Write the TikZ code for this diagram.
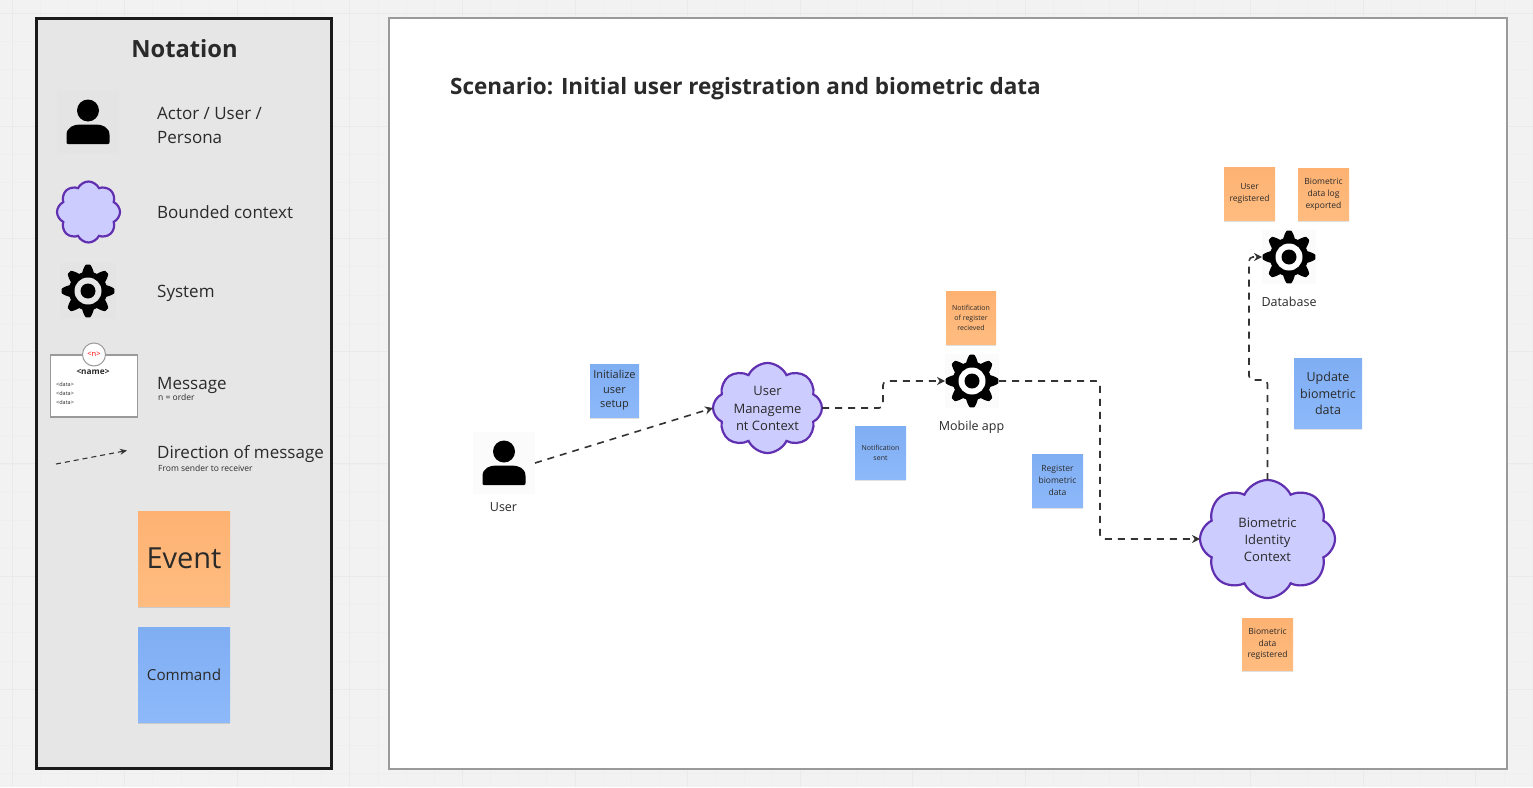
\documentclass[tikz,border=0pt]{standalone}
\usepackage{fontspec}
\setmainfont{Open Sans}
\usetikzlibrary{shapes.symbols,shadows,arrows.meta}
\definecolor{pagebg}{HTML}{F2F2F2}
\definecolor{gridminor}{HTML}{EFEFEF}
\definecolor{gridmajor}{HTML}{EAEAEA}
\definecolor{panelbg}{HTML}{E6E6E6}
\definecolor{panelicon}{HTML}{E4E4E4}
\definecolor{whiteicon}{HTML}{FBFBFB}
\definecolor{panelline}{HTML}{1A1A1A}
\definecolor{frameline}{HTML}{9A9A9A}
\definecolor{inktext}{HTML}{2A2A2A}
\definecolor{evtop}{HTML}{FDB272}
\definecolor{evbot}{HTML}{FFBC80}
\definecolor{cmtop}{HTML}{80AEF3}
\definecolor{cmbot}{HTML}{8DB9FA}
\definecolor{cloudfill}{HTML}{CCCCFF}
\definecolor{cloudline}{HTML}{6030B0}
\definecolor{connline}{HTML}{333333}
\newcommand{\fsz}[2]{\fontsize{#1}{#2}\selectfont}
\newcommand{\gearat}[2]{%
  \begin{scope}[shift={(#1.center)}]
    \fill[black] plot[domain=0:360,samples=289,smooth] ({\x}:{22.8+3.6*max(-1,min(1,1.25*cos(8*\x)))}) -- cycle;
    \fill[#2] (0,0) circle (13.5);
    \fill[black] (0,0) circle (7.5);
  \end{scope}}
\newcommand{\personat}[1]{%
  \begin{scope}[shift={(#1.center)}]
    \fill[black] (0,-11.5) circle (11);
    \fill[black] (-21.5,20) -- (-21.5,13) .. controls (-21.5,5) and (-14,2.5) .. (-8,2.5) -- (8,2.5) .. controls (14,2.5) and (21.5,5) .. (21.5,13) -- (21.5,20) .. controls (21.5,21.5) and (21,22) .. (20,22) -- (-20,22) .. controls (-21,22) and (-21.5,21.5) .. (-21.5,20) -- cycle;
  \end{scope}}
\tikzset{
  x=1pt,y=-1pt,
  sticky/.style={rectangle,inner sep=0pt,align=center,text=inktext,
    drop shadow={shadow xshift=0pt,shadow yshift=-1.5pt,opacity=.12,fill=black}},
  evnote/.style={sticky,top color=evtop,bottom color=evbot},
  cmnote/.style={sticky,top color=cmtop,bottom color=cmbot},
  small note/.style={minimum width=51pt,minimum height=53pt},
  ctx/.style={cloud,cloud puffs=8,cloud puff arc=130,cloud ignores aspect,draw=cloudline,fill=cloudfill,line width=2.2pt,inner sep=0pt,outer sep=0pt},
  ctxlabel/.style={align=center,text=inktext,inner sep=0pt,yshift=-0.7pt},
  iconbox/.style={rectangle,inner sep=0pt,outer sep=0pt,minimum size=#1},
  legend/.style={anchor=west,inner sep=0pt,align=left,text=inktext},
  caption/.style={inner sep=0pt,text=inktext,font=\fsz{12.5}{15}},
  conn/.style={draw=connline,line width=1.6pt,dash pattern=on 7pt off 6pt,rounded corners=4pt,-{Stealth[length=8pt,width=8pt]}},
  msgdata/.style={anchor=west,inner sep=0pt,font=\fsz{5.5}{6},text=inktext},
}
\begin{document}
\begin{tikzpicture}
\useasboundingbox (0,0) rectangle (1533,787);
% canvas
\fill[pagebg] (0,0) rectangle (1533,787);
\foreach \i in {0,...,54} {\draw[gridminor,line width=.8pt] ({12+28.15*\i},0) -- ({12+28.15*\i},787);}
\foreach \i in {0,...,28} {\draw[gridminor,line width=.8pt] (0,{13.5+28.15*\i}) -- (1533,{13.5+28.15*\i});}
\foreach \i in {0,...,13} {\draw[gridmajor,line width=1pt] ({12+112.6*\i},0) -- ({12+112.6*\i},787);}
\foreach \i in {0,...,6} {\draw[gridmajor,line width=1pt] (0,{13.5+112.6*\i}) -- (1533,{13.5+112.6*\i});}
% frames
\draw[panelline,fill=panelbg,line width=2.6pt] (36.5,18.5) rectangle (331.5,768.5);
\draw[frameline,fill=white,line width=1.4pt] (389,18) rectangle (1507,769);
% legend
\node[inner sep=0pt,text=inktext,font=\bfseries\fsz{23.7}{28}] (nottitle) at (184.5,49) {Notation};
\node[iconbox=62pt,fill=panelicon] (lgperson) at (88,122) {};
\personat{lgperson}
\node[legend,font=\fsz{17}{24}] (lgactor) at (157,125) {Actor / User /\\Persona};
\node[ctx,minimum width=63pt,minimum height=61pt] (lgcloud) at (88.5,212) {};
\node[legend,font=\fsz{17}{20}] (lgbounded) at (157,212.5) {Bounded context};
\node[iconbox=56pt,fill=panelicon] (lggear) at (88,291) {};
\gearat{lggear}{panelbg}
\node[legend,font=\fsz{17}{20}] (lgsystem) at (157,293) {System};
\node[rectangle,draw=frameline,fill=white,line width=1.4pt,minimum width=87pt,minimum height=62pt,inner sep=0pt] (lgmsg) at (94,386) {};
\node[circle,draw=frameline,fill=white,line width=1pt,minimum size=23pt,inner sep=0pt,text=red,font=\fsz{7.5}{9}] (lgorder) at (94,354.5) {<n>};
\node[inner sep=0pt,font=\bfseries\fsz{8.3}{9},text=inktext] (lgname) at (93,372) {<name>};
\node[msgdata] (lgd1) at (56,384) {<data>};
\node[msgdata] (lgd2) at (56,393) {<data>};
\node[msgdata] (lgd3) at (56,402) {<data>};
\node[legend,font=\fsz{17}{20}] (lgmessage) at (157,385.5) {Message};
\node[legend,font=\fsz{8.5}{10}] (lgorderlab) at (158,397) {n = order};
\coordinate (lgfrom) at (56,464);
\coordinate (lgto) at (127,450.5);
\draw[connline,line width=1.1pt,dash pattern=on 5pt off 4pt,-{Stealth[length=7pt,width=6pt]}] (lgfrom) -- (lgto);
\node[legend,font=\fsz{17}{20}] (lgdir) at (157,454) {Direction of message};
\node[legend,font=\fsz{8.5}{10}] (lgdirsub) at (158,468) {From sender to receiver};
\node[evnote,minimum width=92pt,minimum height=95pt,font=\fsz{29}{34}] (lgevent) at (184,558.5) {Event};
\node[cmnote,minimum width=92pt,minimum height=95pt,font=\fsz{15.2}{18}] (lgcommand) at (184,674.5) {Command};
% title
\node[anchor=west,inner sep=0pt,text=inktext,font=\bfseries\fsz{22.5}{27}] (scenario) at (450,88.5) {Scenario: Initial user registration and biometric data};
% actors and systems
\node[iconbox=62pt,fill=whiteicon] (user) at (504,463) {};
\personat{user}
\node[caption] (userlab) at (503.5,507) {User};
\node[ctx,minimum width=109pt,minimum height=90pt,label={[ctxlabel,font=\fsz{13}{17.3}]center:User\\Manageme\\nt Context}] (umc) at (767.5,408) {};
\node[iconbox=54pt,fill=whiteicon] (mobile) at (972,381) {};
\gearat{mobile}{white}
\node[caption] (mobilelab) at (971.5,427.5) {Mobile app};
\node[iconbox=54pt,fill=whiteicon] (database) at (1289,257) {};
\gearat{database}{white}
\node[caption] (databaselab) at (1289,302) {Database};
\node[ctx,minimum width=135pt,minimum height=118pt,label={[ctxlabel,font=\fsz{13}{17.3}]center:Biometric\\Identity\\Context}] (bic) at (1267.5,539) {};
% notes
\node[cmnote,small note,minimum width=49pt,font=\fsz{11}{14.5}] (ncmd1) at (614.5,390.5) {Initialize\\user\\setup};
\node[evnote,small note,minimum width=50pt,font=\fsz{7}{10}] (nev1) at (971,318) {Notification\\of register\\recieved};
\node[cmnote,small note,font=\fsz{7}{10}] (ncmd2) at (880.5,453) {Notification\\sent};
\node[cmnote,small note,font=\fsz{8.5}{12.3}] (ncmd3) at (1057.5,480.5) {Register\\biometric\\data};
\node[cmnote,minimum width=68pt,minimum height=70pt,font=\fsz{12.5}{16.5}] (ncmd4) at (1328,393.5) {Update\\biometric\\data};
\node[evnote,small note,font=\fsz{8.5}{11.5}] (nev2) at (1249.5,193.5) {User\\registered};
\node[evnote,small note,minimum height=52pt,font=\fsz{8.5}{12.3}] (nev3) at (1323.5,194.5) {Biometric\\data log\\exported};
\node[evnote,small note,minimum height=52pt,font=\fsz{8.5}{11.5}] (nev4) at (1267.5,644) {Biometric\\data\\registered};
% connectors
\coordinate (b1) at (883,408);
\coordinate (b2) at (883,381);
\coordinate (b3) at (1100,381);
\coordinate (b4) at (1100,539);
\coordinate (b5) at (1267.5,380);
\coordinate (b6) at (1249,380);
\coordinate (b7) at (1249,257);
\draw[conn] (user.east) -- (umc.west);
\draw[conn] (umc.east) -- (b1) -- (b2) -- (mobile.west);
\draw[conn] (mobile.east) -- (b3) -- (b4) -- (bic.west);
\draw[conn] (bic.north) -- (b5) -- (b6) -- (b7) -- (database.west);
\end{tikzpicture}
\end{document}
